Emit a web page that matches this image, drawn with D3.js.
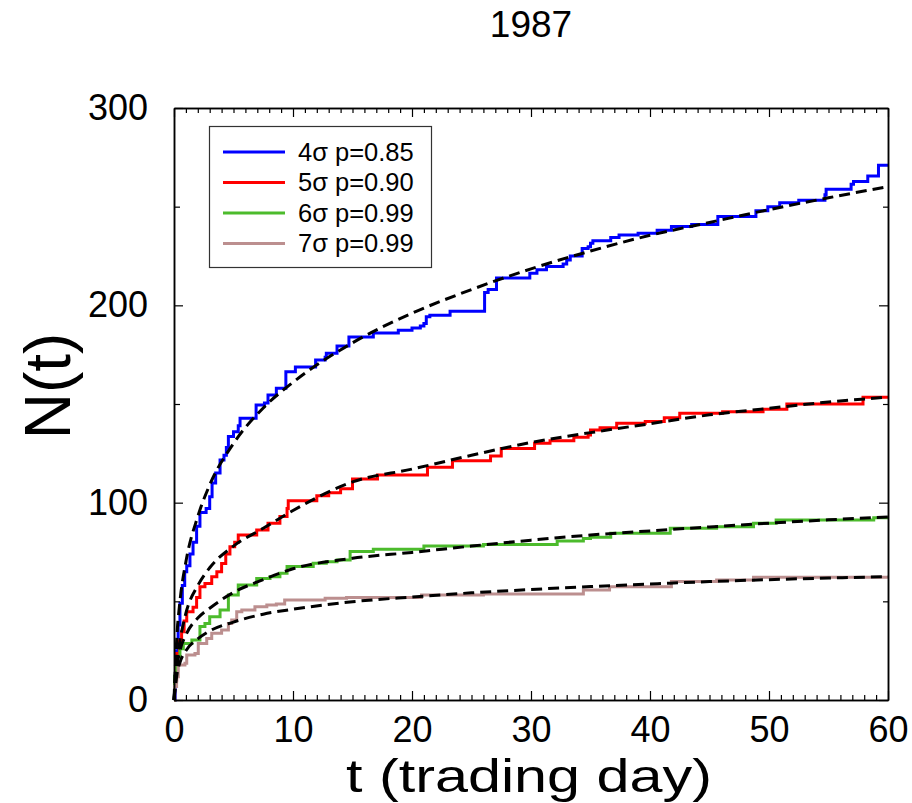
<!DOCTYPE html>
<html>
<head>
<meta charset="utf-8">
<script src="https://cdn.jsdelivr.net/npm/d3@7"></script>
<style>
  html, body { margin: 0; padding: 0; background: #fff; }
  svg { display: block; font-family: "Liberation Sans", Arial, Helvetica, sans-serif; }
</style>
</head>
<body>
<svg id="chart" width="912" height="803"></svg>
<script>
// ---------------- data ----------------
const title = "1987";
const xLabel = "t (trading day)";
const yLabel = "N(t)";
const xTicks = [0, 10, 20, 30, 40, 50, 60];
const yTicks = [0, 100, 200, 300];
const seriesLabels = ["4\u03c3 p=0.85", "5\u03c3 p=0.90", "6\u03c3 p=0.99", "7\u03c3 p=0.99"];
const seriesColors = ["#0000ff", "#ff0000", "#4cbb2c", "#bc8f8f"];

// step data: [t, N after jump]
const steps4 = [[0,0],[0.1,12],[0.2,25],[0.35,38],[0.5,49],[0.7,58],[0.9,65],[1.07,68],[1.34,74],[1.6,80],[1.9,88],[2.18,95],[2.7,97],[3.0,103],[3.2,110],[3.5,115],[3.87,121.6],[4.2,124],[4.4,128],[4.57,133.5],[5.0,136],[5.4,139],[5.55,142.8],[6.9,149.5],[7.6,150.5],[7.9,154.5],[8.6,158],[9.4,166.4],[10.2,168.8],[11.9,172.3],[12.7,173.7],[12.8,175.7],[13.7,179.4],[14.7,184],[16.75,186],[18.85,187.4],[20,188.5],[20.7,189.5],[21,190.8],[21.2,194.2],[21.5,195],[23.2,197],[26.1,206.5],[26.4,208],[27.1,213.8],[29.9,216.2],[30.5,218],[31.3,219.7],[32.7,220.9],[33,223],[33.3,225],[34.3,228.8],[34.8,229.7],[35,231.4],[35.2,232.7],[36.7,234.4],[37.4,235.6],[39,236.5],[40.6,238],[41.8,240],[43.5,241],[45.7,245],[48.9,247.9],[49.9,250],[50.9,252],[52.5,253.2],[54.7,256],[54.8,258.8],[56.9,261.3],[57.1,262.7],[58.3,265.5],[59.2,271],[60,271]];
const steps5 = [[0,0],[0.05,10],[0.22,23.6],[0.45,30],[0.64,34.6],[0.85,40],[1.07,44.7],[1.6,47],[1.9,52],[2.18,57.4],[2.6,59],[3.17,62.5],[3.6,65],[4.0,69.2],[4.35,74],[4.7,77.7],[5.1,80],[5.4,83.6],[6.95,86.2],[7.9,89.6],[8.9,93],[9.5,97],[9.6,101],[12,103.5],[13,105],[14,107],[15,112],[17.1,114],[21.3,118],[23.4,121.3],[26.6,123.7],[27.5,127.4],[30.3,130.1],[31.6,131.4],[33.6,133.1],[34.8,134.3],[35,136.8],[35.8,138],[37.2,140.3],[39.6,141.1],[41.2,143],[42.5,145.3],[46.1,146.1],[49.5,147.3],[51.5,150],[57.9,153.4],[60,153.4]];
const steps6 = [[0,0],[0.05,12],[0.22,22],[0.5,26],[0.78,28.6],[1.5,30.4],[2.18,37.2],[2.6,38.8],[3.0,42.2],[3.87,45.6],[4.57,53.2],[5.4,58.3],[6.95,61.6],[8.07,62.5],[8.9,64.2],[9.5,67.6],[11.7,69.3],[12.8,70.1],[13.7,71],[14.8,75.2],[16.75,76.4],[21,78.1],[26,78.8],[32.2,80.6],[34.4,81.9],[35,82.5],[36.7,84.5],[41.7,87],[45.6,87.8],[48.7,89.6],[50.6,91.2],[58.8,92.4],[60,92.4]];
const steps7 = [[0,0],[0.05,6.8],[0.22,11.8],[0.36,17.7],[0.92,18.6],[1.07,22.8],[1.76,23.6],[2.04,28.6],[2.75,31.2],[3.17,33.8],[4.0,35.5],[4.57,38.8],[4.85,40.5],[5.27,44.7],[5.7,45.6],[6.8,47.3],[7.8,48.1],[8.6,48.6],[9.3,50.7],[12.7,51.5],[14.5,52],[20.8,53.2],[26,53.7],[34.4,55.8],[36.6,57.4],[41.8,60],[45.6,60.8],[48.7,62.2],[60,62.2]];

// fitted (dashed) curves read at these t values
const fitT = [0, 0.25, 0.5, 1, 2, 3, 5, 7.5, 10, 15, 20, 25, 30, 35, 40, 45, 50, 55, 60];
const fit4 = [0, 33, 50, 70, 93, 109, 130, 148, 161, 181, 196, 208, 218.5, 227.5, 235.5, 242, 248.5, 254.5, 260.2];
const fit5 = [0, 20, 30, 44, 58, 67, 78, 87, 96, 110.5, 117, 124, 130.5, 135.5, 140, 144.5, 147.8, 151, 153.5];
const fit6 = [0, 17, 25, 33, 41.5, 46.5, 54.5, 61, 66.5, 71.8, 74.8, 78, 81, 83.6, 85.7, 87.7, 89.6, 91.3, 92.8];
const fit7 = [0, 13, 19, 25, 31, 35, 39.5, 43.5, 46, 49.8, 52.2, 54.3, 56, 57.5, 58.8, 60, 61, 61.8, 62.5];

// ---------------- drawing ----------------
const svg = d3.select("#chart");
const x = d3.scaleLinear().domain([0, 60]).range([174, 888]);
const y = d3.scaleLinear().domain([0, 300]).range([700, 108]);

const stepSeries = [steps4, steps5, steps6, steps7];
const fitSeries = [fit4, fit5, fit6, fit7];

const stepLine = d3.line().x(d => x(d[0])).y(d => y(d[1])).curve(d3.curveStepAfter);
const fitLine = d3.line().x((d, i) => x(fitT[i])).y(d => y(d)).curve(d3.curveMonotoneX);

const plot = svg.append("g");
stepSeries.forEach((s, i) => {
  plot.append("path").attr("d", stepLine(s))
    .attr("fill", "none").attr("stroke", seriesColors[i])
    .attr("stroke-width", 3).attr("stroke-linejoin", "miter");
});
fitSeries.forEach(f => {
  plot.append("path").attr("d", fitLine(f))
    .attr("fill", "none").attr("stroke", "#000")
    .attr("stroke-width", 3).attr("stroke-dasharray", "11,6");
});

// axes
const xMinor = d3.range(0, 61, 1).filter(v => v % 10 !== 0);
const yMinor = [50, 150, 250];
function styleAxis(g) {
  g.selectAll("path.domain").attr("stroke", "#000").attr("stroke-width", 1.5);
  g.selectAll(".tick line").attr("stroke", "#000").attr("stroke-width", 1.2);
  g.selectAll("text").attr("fill", "#000").attr("font-size", 36)
    .attr("font-family", '"Liberation Sans", Arial, sans-serif');
}
// bottom
svg.append("g").attr("transform", "translate(0,700)")
  .call(d3.axisBottom(x).tickValues(xMinor).tickSize(-5).tickSizeOuter(0).tickFormat(""))
  .call(styleAxis);
svg.append("g").attr("transform", "translate(0,700)")
  .call(d3.axisBottom(x).tickValues(xTicks).tickSize(-9).tickSizeOuter(0).tickPadding(16).tickFormat(d3.format("d")))
  .call(styleAxis);
// top
svg.append("g").attr("transform", "translate(0,108)")
  .call(d3.axisTop(x).tickValues(xMinor).tickSize(-5).tickSizeOuter(0).tickFormat(""))
  .call(styleAxis);
svg.append("g").attr("transform", "translate(0,108)")
  .call(d3.axisTop(x).tickValues(xTicks).tickSize(-9).tickSizeOuter(0).tickFormat(""))
  .call(styleAxis);
// left
svg.append("g").attr("transform", "translate(174,0)")
  .call(d3.axisLeft(y).tickValues(yMinor).tickSize(-6).tickSizeOuter(0).tickFormat(""))
  .call(styleAxis);
svg.append("g").attr("transform", "translate(174,0)")
  .call(d3.axisLeft(y).tickValues(yTicks).tickSize(-9).tickSizeOuter(0).tickPadding(26).tickFormat(d3.format("d")))
  .call(styleAxis);
// right
svg.append("g").attr("transform", "translate(888,0)")
  .call(d3.axisRight(y).tickValues(yMinor).tickSize(-5).tickSizeOuter(0).tickFormat(""))
  .call(styleAxis);
svg.append("g").attr("transform", "translate(888,0)")
  .call(d3.axisRight(y).tickValues(yTicks).tickSize(-9).tickSizeOuter(0).tickFormat(""))
  .call(styleAxis);

// title & labels
svg.append("text").attr("x", 531).attr("y", 37).attr("text-anchor", "middle")
  .attr("font-size", 37).text(title);
svg.append("text").attr("x", 529).attr("y", 792).attr("text-anchor", "middle")
  .attr("font-size", 46).attr("textLength", 366).attr("lengthAdjust", "spacingAndGlyphs")
  .text(xLabel);
svg.append("text").attr("transform", "translate(70,386) rotate(-90)")
  .attr("text-anchor", "middle").attr("font-size", 64).text(yLabel);

// legend
const lg = svg.append("g");
lg.append("rect").attr("x", 209.5).attr("y", 126.5).attr("width", 222).attr("height", 141)
  .attr("fill", "#fff").attr("stroke", "#333").attr("stroke-width", 1.2);
seriesLabels.forEach((lab, i) => {
  const cy = 152 + i * 30.5;
  lg.append("line").attr("x1", 223).attr("x2", 285).attr("y1", cy).attr("y2", cy)
    .attr("stroke", seriesColors[i]).attr("stroke-width", 3);
  lg.append("text").attr("x", 298).attr("y", cy).attr("dy", "0.35em")
    .attr("font-size", 25.5).text(lab);
});
</script>
</body>
</html>
